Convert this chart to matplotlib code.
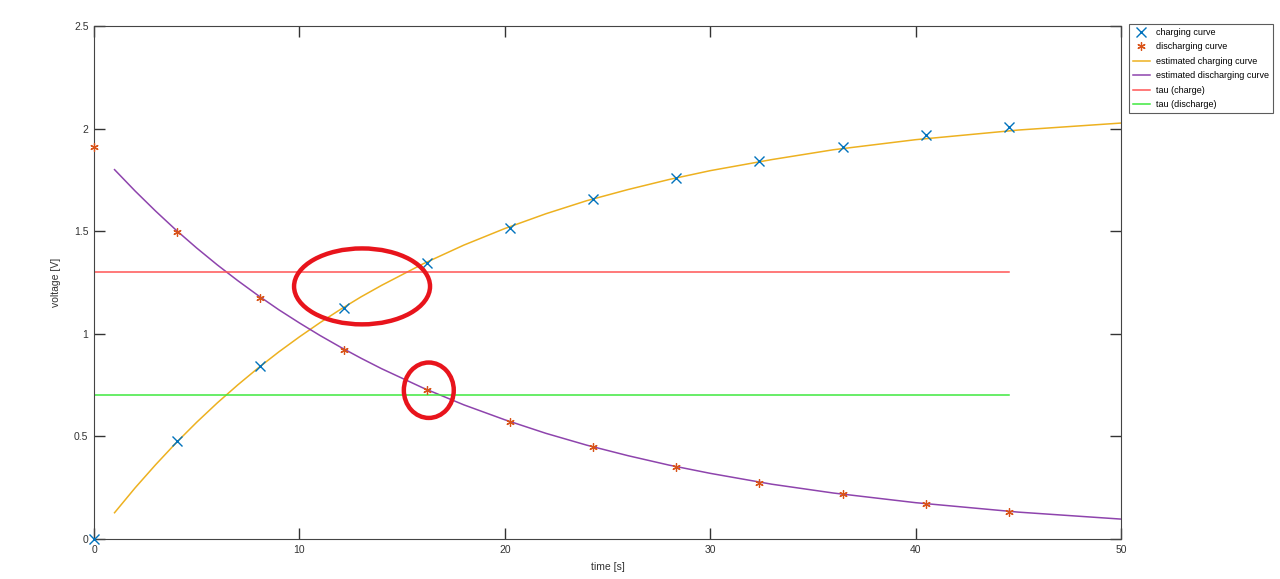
import numpy as np
import matplotlib.pyplot as plt
from matplotlib.patches import Ellipse

plt.rcParams['font.family'] = ['Liberation Sans', 'DejaVu Sans']

# measured samples
t_meas = [0, 4.05, 8.1, 12.15, 16.2, 20.25, 24.3, 28.35, 32.4, 36.45, 40.5, 44.55]
v_charge = [0.0, 0.477, 0.842, 1.124, 1.343, 1.518, 1.655, 1.757, 1.844, 1.908, 1.971, 2.01]
v_discharge = [1.908, 1.494, 1.173, 0.920, 0.725, 0.569, 0.448, 0.350, 0.272, 0.219, 0.170, 0.131]

# estimated curves
t_fit = [1, 2, 3, 4, 5, 6, 7, 8, 9, 10, 11, 12, 13, 14, 16, 18, 20, 22, 24, 26, 28,
         30, 33, 36, 40, 45, 50]
v_fit_charge = [0.128, 0.249, 0.362, 0.469, 0.569, 0.663, 0.751, 0.834, 0.912, 0.985,
                1.054, 1.119, 1.180, 1.236, 1.340, 1.432, 1.513, 1.585, 1.649, 1.703,
                1.752, 1.795, 1.849, 1.897, 1.946, 1.993, 2.027]
v_fit_discharge = [1.800, 1.696, 1.598, 1.505, 1.418, 1.336, 1.259, 1.186, 1.117, 1.053,
                   0.992, 0.935, 0.881, 0.830, 0.737, 0.654, 0.581, 0.515, 0.457, 0.406,
                   0.360, 0.320, 0.267, 0.224, 0.177, 0.131, 0.097]

# time constant levels
tau_charge = 1.3
tau_discharge = 0.7
tau_span = [0, 44.55]

# hand-drawn highlight ellipses (center x, center y, width, height)
ellipses = [(13.05, 1.231, 6.62, 0.37), (16.3, 0.725, 2.43, 0.27)]

fig = plt.figure(figsize=(12.8, 5.79), dpi=100)
ax = fig.add_axes([94 / 1280, 40 / 579, 1027 / 1280, 513 / 579])

ax.plot(t_meas, v_charge, linestyle='none', marker='x', color='#0072BD',
        markersize=7, markeredgewidth=1.0, label='charging curve', clip_on=False, zorder=4)
ax.plot(t_meas, v_discharge, linestyle='none', marker=(6, 2, 0), color='#D95319',
        markersize=6, markeredgewidth=0.9, label='discharging curve', clip_on=False, zorder=4)
ax.plot(t_fit, v_fit_charge, color='#EDB120', lw=1.1, label='estimated charging curve')
ax.plot(t_fit, v_fit_discharge, color='#8E44AD', lw=1.1, label='estimated discharging curve')
ax.plot(tau_span, [tau_charge, tau_charge], color='#FF5555', lw=1.1, label='tau (charge)')
ax.plot(tau_span, [tau_discharge, tau_discharge], color='#3EE83E', lw=1.1, label='tau (discharge)')

for cx, cy, w, h in ellipses:
    ax.add_patch(Ellipse((cx, cy), w, h, fill=False, edgecolor='#E8141C', lw=3.2, zorder=5))

ax.set_xlim(0, 50)
ax.set_ylim(0, 2.5)
ax.set_xticks([0, 10, 20, 30, 40, 50])
ax.set_yticks([0, 0.5, 1, 1.5, 2, 2.5])
ax.set_yticklabels(['0', '0.5', '1', '1.5', '2', '2.5'])
ax.tick_params(direction='in', top=True, right=True, length=8, width=1.0,
               labelsize=7.5, labelcolor='#333333', color='#333333', pad=4)
for sp in ax.spines.values():
    sp.set_color('#444444')
ax.set_xlabel('time [s]', fontsize=7.5, color='#333333')
ax.xaxis.set_label_coords(0.5, -0.045)
ax.set_ylabel('voltage [V]', fontsize=7.5, color='#333333')
ax.yaxis.set_label_coords(-0.032, 0.5)

leg = ax.legend(loc='upper left', bbox_to_anchor=(1.0075, 1.004), fontsize=6.5,
                frameon=True, fancybox=False, borderpad=0.45, labelspacing=0.6,
                handlelength=1.9, handletextpad=0.7, borderaxespad=0)
leg.get_frame().set_edgecolor('#333333')
leg.get_frame().set_linewidth(0.8)

fig.savefig('out.png', dpi=100)
